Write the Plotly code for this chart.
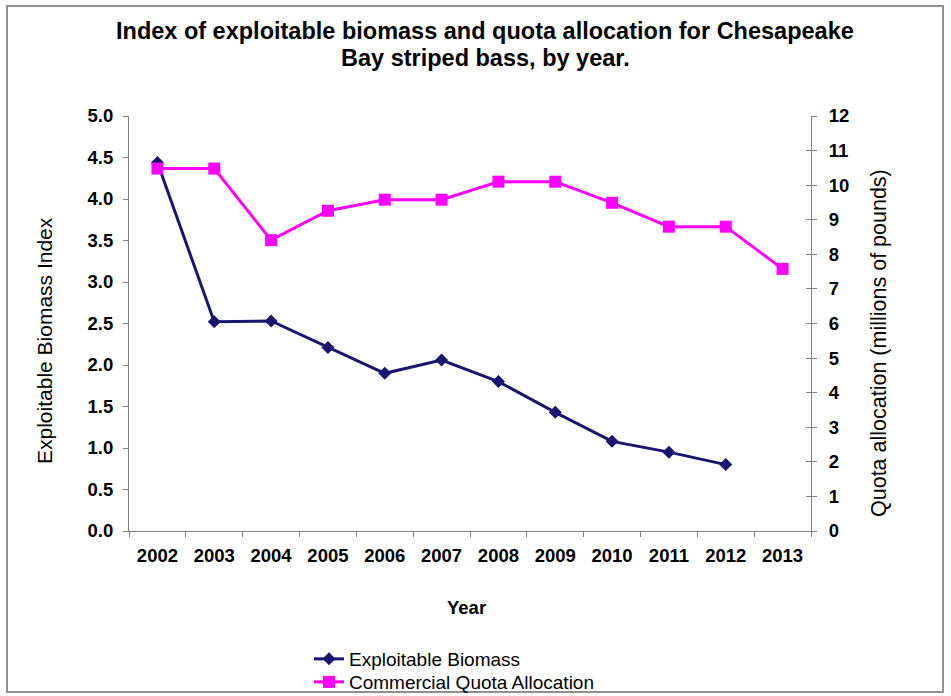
import plotly.graph_objects as go

years = ["2002", "2003", "2004", "2005", "2006", "2007", "2008", "2009", "2010", "2011", "2012", "2013"]
biomass = [4.44, 2.52, 2.53, 2.21, 1.90, 2.06, 1.80, 1.43, 1.08, 0.95, 0.80, None]
quota = [10.48, 10.48, 8.41, 9.26, 9.58, 9.58, 10.1, 10.1, 9.49, 8.8, 8.8, 7.58]

left_ticks = [0, 0.5, 1.0, 1.5, 2.0, 2.5, 3.0, 3.5, 4.0, 4.5, 5.0]
left_labels = ["0.0", "0.5", "1.0", "1.5", "2.0", "2.5", "3.0", "3.5", "4.0", "4.5", "5.0"]
right_ticks = list(range(0, 13))

W, H = 951, 696
L, R, T, B = 129, 811, 116, 531

def px(xp):
    return (xp - L) / (R - L)

def py(yp):
    return (B - yp) / (B - T)

FONT = "Liberation Sans, Arial, sans-serif"
TICKFONT = dict(family=FONT, size=18.5, color="#000000", weight="bold")

fig = go.Figure()
fig.add_trace(go.Scatter(
    x=years, y=biomass, name="Exploitable Biomass", mode="lines+markers",
    line=dict(color="#1a1670", width=3),
    marker=dict(symbol="diamond", size=10, color="#1a1670"),
    yaxis="y", connectgaps=False, legend="legend",
))
fig.add_trace(go.Scatter(
    x=years, y=quota, name="Commercial Quota Allocation", mode="lines+markers",
    line=dict(color="#ff00ff", width=3),
    marker=dict(symbol="square", size=12, color="#ff00ff"),
    yaxis="y2", legend="legend2",
))

axis_common = dict(showgrid=False, zeroline=False, showline=True, linecolor="#808080",
                   linewidth=1, tickcolor="#808080", ticklen=5, tickfont=TICKFONT)

legend_common = dict(xanchor="left", yanchor="middle", orientation="v",
                     font=dict(family=FONT, size=19, color="#000000"),
                     bgcolor="rgba(0,0,0,0)", itemwidth=30, tracegroupgap=0)

fig.update_layout(
    width=W, height=H,
    margin=dict(l=L, r=W - R, t=T, b=H - B, pad=0, autoexpand=False),
    paper_bgcolor="white", plot_bgcolor="white",
    showlegend=True,
    legend=dict(legend_common, x=px(309), y=py(659)),
    legend2=dict(legend_common, x=px(309), y=py(682)),
    xaxis=dict(axis_common, type="category", ticks="outside", tickson="boundaries",
               range=[-0.5, 11.5], ticklabelstandoff=8),
    yaxis=dict(axis_common, range=[0, 5.0], tickvals=left_ticks, ticktext=left_labels,
               ticks="outside", ticklabelstandoff=6),
    yaxis2=dict(axis_common, range=[0, 12], tickvals=right_ticks, overlaying="y",
                side="right", ticks="outside", ticklabelstandoff=8),
    yaxis3=dict(showgrid=False, zeroline=False, showline=False, range=[0, 12],
                tickvals=right_ticks, overlaying="y", side="right", ticks="inside",
                ticklen=5, tickcolor="#808080", showticklabels=False),
    annotations=[
        dict(text="<b>Index of exploitable biomass and quota allocation for Chesapeake</b>",
             x=px(485), y=py(31), xref="paper", yref="paper", xanchor="center", yanchor="middle",
             showarrow=False, font=dict(family=FONT, size=23.5, color="#000000")),
        dict(text="<b>Bay striped bass, by year.</b>",
             x=px(485), y=py(58), xref="paper", yref="paper", xanchor="center", yanchor="middle",
             showarrow=False, font=dict(family=FONT, size=23.5, color="#000000")),
        dict(text="Exploitable Biomass Index", x=px(44), y=py(341), xref="paper", yref="paper",
             xanchor="center", yanchor="middle", textangle=-90, showarrow=False,
             font=dict(family=FONT, size=21, color="#000000")),
        dict(text="Quota allocation (millions of pounds)", x=px(879), y=py(343), xref="paper", yref="paper",
             xanchor="center", yanchor="middle", textangle=-90, showarrow=False,
             font=dict(family=FONT, size=21.5, color="#000000")),
        dict(text="<b>Year</b>", x=px(466), y=py(607), xref="paper", yref="paper",
             xanchor="center", yanchor="middle", showarrow=False,
             font=dict(family=FONT, size=18.5, color="#000000")),
    ],
    shapes=[
        dict(type="rect", xref="paper", yref="paper", x0=px(7), x1=px(943), y0=py(692), y1=py(6),
             line=dict(color="#909090", width=2), fillcolor="rgba(0,0,0,0)", layer="below"),
    ],
)
# the invisible yaxis3 carries inner tick marks so the right axis ticks cross the line
fig.add_trace(go.Scatter(x=years, y=[None] * len(years), yaxis="y3", showlegend=False,
                         hoverinfo="skip", mode="lines"))

fig.write_html("out.html", config={"displayModeBar": False},
               post_script="document.body.style.margin='0px';")
